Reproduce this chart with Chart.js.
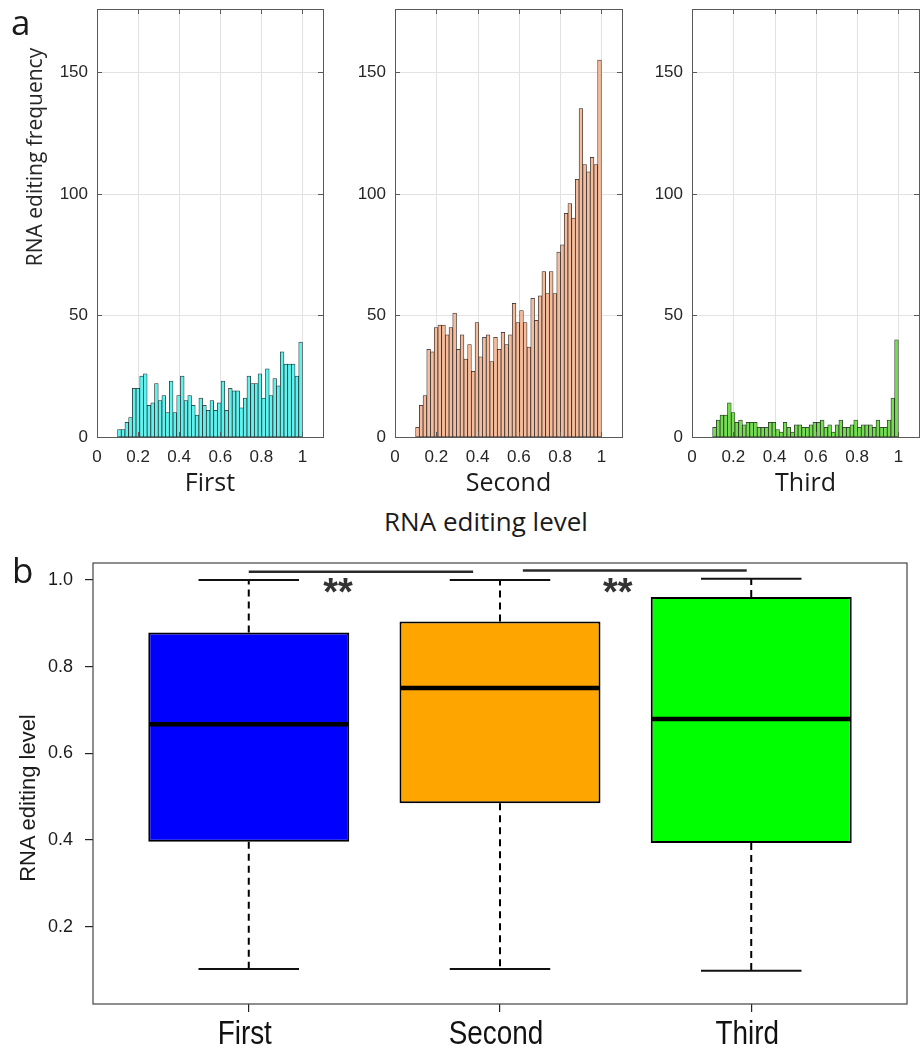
<!DOCTYPE html>
<html>
<head>
<meta charset="utf-8">
<title>RNA editing level</title>
<script src="https://cdn.jsdelivr.net/npm/chart.js@4.4.1/dist/chart.umd.min.js"></script>
<style>
  html, body { margin: 0; padding: 0; background: #fff; }
  body { width: 922px; height: 1052px; position: relative; overflow: hidden; }
  canvas { position: absolute; }
  .label { position: absolute; white-space: nowrap; color: #1a1a1a; z-index: 2; }
  .panel { font: 35px 'Open Sans', sans-serif; line-height: 35px; }
  .ylab { transform: translate(-50%, -50%) rotate(-90deg); }
</style>
</head>
<body>
<canvas id="hist-first" width="327" height="500" style="left:0;top:0"></canvas>
<canvas id="hist-second" width="291" height="500" style="left:335px;top:0"></canvas>
<canvas id="hist-third" width="290" height="500" style="left:632px;top:0"></canvas>
<canvas id="box-levels" width="922" height="507" style="left:0;top:545px"></canvas>

<div class="label panel" style="left:11px;top:4px">a</div>
<div class="label panel" style="left:12px;top:552px">b</div>
<div class="label ylab" style="left:34px;top:157px;font:21px 'Open Sans',sans-serif;color:#262626">RNA editing frequency</div>
<div class="label" style="left:486px;top:508px;transform:translateX(-50%);font:26px 'Open Sans',sans-serif;line-height:26px">RNA editing level</div>
<div class="label ylab" style="left:28px;top:798px;font:22px 'Liberation Sans',Arial,sans-serif">RNA editing level</div>

<script>
(function() {
    'use strict';

    // Histogram bins (editing level 0.1 - 1.0, 50 bins)
    const binStart = 0.1;
    const binWidth = 0.018;
    const firstCounts = [3, 3, 6, 8, 20, 20, 25, 26, 13, 14, 22, 15, 17, 10, 23, 10, 17, 25, 15, 17,
        13, 9, 16, 13, 11, 15, 11, 14, 23, 11, 20, 19, 19, 12, 16, 25, 22, 22, 26, 16,
        28, 17, 24, 21, 35, 30, 30, 30, 25, 39];
    const secondCounts = [4, 13, 17, 36, 35, 45, 46, 46, 42, 45, 51, 36, 42, 32, 38, 27, 47, 33, 41, 42,
        31, 41, 36, 43, 38, 42, 55, 47, 52, 47, 37, 57, 48, 58, 68, 59, 68, 59, 76, 79,
        92, 96, 90, 106, 135, 112, 109, 115, 112, 155];
    const thirdCounts = [4, 7, 9, 9, 14, 10, 6, 7, 5, 6, 6, 6, 4, 4, 4, 6, 6, 3, 2, 6,
        4, 2, 5, 5, 4, 4, 5, 6, 6, 7, 4, 5, 2, 5, 7, 4, 4, 5, 7, 4,
        5, 5, 5, 4, 7, 4, 4, 7, 16, 40];
    const histXTicks = [0, 0.2, 0.4, 0.6, 0.8, 1];
    const histYTicks = [0, 50, 100, 150];

    // Box plot summary per group
    const categories = ['First', 'Second', 'Third'];
    const whiskerLow = [0.102, 0.102, 0.098];
    const quartile1 = [0.396, 0.485, 0.393];
    const medians = [0.667, 0.751, 0.679];
    const quartile3 = [0.879, 0.904, 0.961];
    const whiskerHigh = [1.0, 1.0, 1.003];
    const boxYTicks = [0.2, 0.4, 0.6, 0.8, 1.0];

    // Significance brackets (x in group units, y in editing level)
    const sigBrackets = [
        { from: 1.0, to: 1.893, y: 1.019, starX: 1.355, starY: 0.986 },
        { from: 2.091, to: 2.982, y: 1.022, starX: 2.469, starY: 0.986 }
    ];

    const binCenters = firstCounts.map((c, i) => binStart + (i + 0.5) * binWidth);
    const tickFont = { family: "'Liberation Sans', Arial, sans-serif", size: 17 };

    function line(ctx, x1, y1, x2, y2) {
        ctx.beginPath();
        ctx.moveTo(x1, y1);
        ctx.lineTo(x2, y2);
        ctx.stroke();
    }

    const snap = v => Math.round(v) + 0.5;

    // MATLAB-like box, grid and inward ticks
    const matlabAxes = {
        id: 'matlabAxes',
        beforeDatasetsDraw(chart) {
            const { ctx, chartArea: a, scales: { x, y } } = chart;
            ctx.save();
            ctx.strokeStyle = '#e2e2e2';
            ctx.lineWidth = 1;
            histXTicks.filter(v => v > 0).forEach(v => {
                const px = snap(x.getPixelForValue(v));
                line(ctx, px, a.top, px, a.bottom);
            });
            histYTicks.filter(v => v > 0).forEach(v => {
                const py = snap(y.getPixelForValue(v));
                line(ctx, a.left, py, a.right, py);
            });
            ctx.restore();
        },
        afterDraw(chart) {
            const { ctx, chartArea: a, scales: { x, y } } = chart;
            ctx.save();
            ctx.strokeStyle = '#5a5a5a';
            ctx.lineWidth = 1;
            ctx.strokeRect(snap(a.left), snap(a.top), Math.round(a.right - a.left), Math.round(a.bottom - a.top));
            histXTicks.filter(v => v > 0).forEach(v => {
                const px = snap(x.getPixelForValue(v));
                line(ctx, px, a.top, px, a.top + 5);
                line(ctx, px, a.bottom, px, a.bottom - 5);
            });
            histYTicks.filter(v => v > 0).forEach(v => {
                const py = snap(y.getPixelForValue(v));
                line(ctx, a.left, py, a.left + 5, py);
                line(ctx, a.right, py, a.right - 5, py);
            });
            ctx.restore();
        }
    };

    function histogramConfig(counts, color, title, yWidth, padRight) {
        return {
            type: 'bar',
            data: {
                datasets: [{
                    data: binCenters.map((c, i) => ({ x: c, y: counts[i] })),
                    backgroundColor: color,
                    borderColor: '#262626',
                    borderWidth: 0.75,
                    borderSkipped: false,
                    categoryPercentage: 1,
                    barPercentage: 1
                }]
            },
            options: {
                responsive: false,
                animation: false,
                layout: { padding: { top: 9, right: padRight, bottom: 0, left: 0 } },
                plugins: { legend: { display: false }, tooltip: { enabled: false } },
                scales: {
                    x: {
                        type: 'linear',
                        min: 0,
                        max: 1.1,
                        offset: false,
                        afterBuildTicks: s => { s.ticks = histXTicks.map(v => ({ value: v })); },
                        afterFit: s => { s.height = 63; s.paddingLeft = 0; s.paddingRight = 0; },
                        grid: { display: false, drawTicks: false },
                        border: { display: false },
                        ticks: {
                            padding: 10,
                            font: tickFont,
                            color: '#262626',
                            maxRotation: 0,
                            autoSkip: false,
                            callback: v => String(v)
                        },
                        title: {
                            display: true,
                            text: title,
                            font: { family: "'Open Sans', sans-serif", size: 25 },
                            color: '#1a1a1a',
                            padding: { top: 0, bottom: 1 }
                        }
                    },
                    y: {
                        min: 0,
                        max: 176,
                        afterBuildTicks: s => { s.ticks = histYTicks.map(v => ({ value: v })); },
                        afterFit: s => { s.width = yWidth; s.paddingTop = 0; s.paddingBottom = 0; },
                        grid: { display: false, drawTicks: false },
                        border: { display: false },
                        ticks: { padding: 9, font: tickFont, color: '#262626', callback: v => String(v) }
                    }
                }
            },
            plugins: [matlabAxes]
        };
    }

    // Whiskers, medians, frame, group names and significance marks for the box plot
    const boxExtras = {
        id: 'boxExtras',
        afterDatasetsDraw(chart) {
            const { ctx, chartArea: a, scales: { x, y } } = chart;
            ctx.save();
            categories.forEach((name, i) => {
                const cx = x.getPixelForValue(i + 1);
                const capHalf = x.getPixelForValue(i + 1.2) - cx;
                const boxHalf = x.getPixelForValue(i + 1.4) - cx;

                ctx.strokeStyle = '#000';
                ctx.lineWidth = 2;
                ctx.setLineDash([7, 5]);
                line(ctx, cx, y.getPixelForValue(quartile3[i]), cx, y.getPixelForValue(whiskerHigh[i]));
                line(ctx, cx, y.getPixelForValue(quartile1[i]), cx, y.getPixelForValue(whiskerLow[i]));
                ctx.setLineDash([]);

                ctx.strokeStyle = '#111';
                line(ctx, cx - capHalf, y.getPixelForValue(whiskerHigh[i]), cx + capHalf, y.getPixelForValue(whiskerHigh[i]));
                line(ctx, cx - capHalf, y.getPixelForValue(whiskerLow[i]), cx + capHalf, y.getPixelForValue(whiskerLow[i]));

                ctx.strokeStyle = '#000';
                ctx.lineWidth = 4.5;
                const my = y.getPixelForValue(medians[i]);
                line(ctx, cx - boxHalf + 1, my, cx + boxHalf - 1, my);

                // condensed group label under its tick
                ctx.save();
                ctx.fillStyle = '#111';
                ctx.font = "34px 'Liberation Sans', Arial, sans-serif";
                ctx.textAlign = 'center';
                ctx.textBaseline = 'alphabetic';
                ctx.translate(cx - 4, a.bottom + 40);
                ctx.scale(0.82, 1);
                ctx.fillText(name, 0, 0);
                ctx.restore();
            });

            ctx.strokeStyle = '#444';
            ctx.lineWidth = 1.2;
            ctx.strokeRect(a.left, a.top, a.right - a.left, a.bottom - a.top);

            ctx.strokeStyle = '#2a2a2a';
            ctx.fillStyle = '#333';
            ctx.lineWidth = 2.5;
            ctx.font = "bold 38px 'Liberation Sans', Arial, sans-serif";
            ctx.textAlign = 'center';
            ctx.textBaseline = 'alphabetic';
            sigBrackets.forEach(b => {
                const by = y.getPixelForValue(b.y);
                line(ctx, x.getPixelForValue(b.from), by, x.getPixelForValue(b.to), by);
                ctx.fillText('**', x.getPixelForValue(b.starX), y.getPixelForValue(b.starY) + 19);
            });
            ctx.restore();
        }
    };

    function initializeHistograms() {
        new Chart(document.getElementById('hist-first'),
            histogramConfig(firstCounts, '#5ff3ef', 'First', 97, 4));
        new Chart(document.getElementById('hist-second'),
            histogramConfig(secondCounts, '#f6bb9a', 'Second', 60, 4));
        new Chart(document.getElementById('hist-third'),
            histogramConfig(thirdCounts, '#74dd50', 'Third', 60, 3));
    }

    function initializeBoxPlot() {
        new Chart(document.getElementById('box-levels'), {
            type: 'bar',
            data: {
                datasets: [{
                    data: categories.map((name, i) => ({ x: i + 1, y: [quartile1[i], quartile3[i]] })),
                    backgroundColor: ['#0000ff', '#ffa500', '#00ff00'],
                    borderColor: '#000',
                    borderWidth: 2,
                    borderSkipped: false,
                    categoryPercentage: 1,
                    barPercentage: 0.8
                }]
            },
            options: {
                responsive: false,
                animation: false,
                layout: { padding: { top: 18, right: 15, bottom: 0, left: 0 } },
                plugins: { legend: { display: false }, tooltip: { enabled: false } },
                scales: {
                    x: {
                        type: 'linear',
                        min: 0.38,
                        max: 3.62,
                        offset: false,
                        afterBuildTicks: s => { s.ticks = categories.map((c, i) => ({ value: i + 1 })); },
                        afterFit: s => { s.height = 48; s.paddingLeft = 0; s.paddingRight = 0; },
                        grid: { offset: false, drawOnChartArea: false, drawTicks: true, tickLength: 8, color: '#222', lineWidth: 1.2 },
                        border: { display: false },
                        ticks: { display: false }
                    },
                    y: {
                        min: 0.0215,
                        max: 1.0392,
                        afterBuildTicks: s => { s.ticks = boxYTicks.map(v => ({ value: v })); },
                        afterFit: s => { s.width = 93; s.paddingTop = 0; s.paddingBottom = 0; },
                        grid: { offset: false, drawOnChartArea: false, drawTicks: true, tickLength: 8, color: '#222', lineWidth: 1.2 },
                        border: { display: false },
                        ticks: {
                            padding: 12,
                            font: { family: "'Liberation Sans', Arial, sans-serif", size: 18 },
                            color: '#1a1a1a',
                            callback: v => v.toFixed(1)
                        }
                    }
                }
            },
            plugins: [boxExtras]
        });
    }

    initializeHistograms();
    initializeBoxPlot();
})();
</script>
</body>
</html>
